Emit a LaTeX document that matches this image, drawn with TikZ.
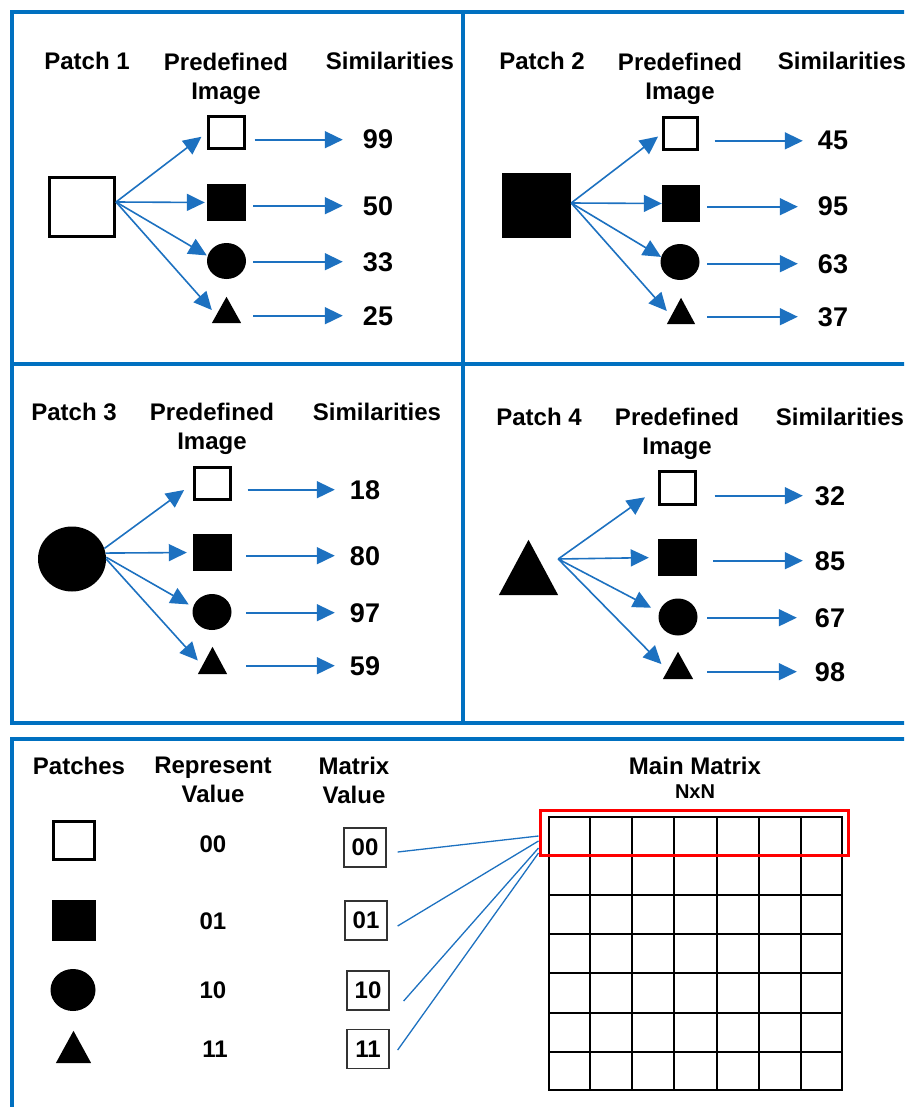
\documentclass[tikz,border=0pt]{standalone}
\usepackage{fontspec}
\setmainfont{Liberation Sans}
\usetikzlibrary{arrows.meta,shapes.geometric,calc}
\definecolor{frameblue}{HTML}{0070C0}
\definecolor{flowblue}{HTML}{1D71C0}

\begin{document}
\begin{tikzpicture}[x=1pt,y=-1pt,
  frame/.style={draw=frameblue, line width=4pt},
  hdr/.style={font=\bfseries\fontsize{24}{29}\selectfont, inner sep=0pt, align=center},
  num/.style={font=\bfseries\fontsize{27}{30}\selectfont, inner sep=0pt, anchor=base},
  code/.style={font=\bfseries\fontsize{24}{28}\selectfont, inner sep=0pt, anchor=base},
  osq/.style={draw, line width=3pt, inner sep=0pt},
  fsq/.style={fill=black, inner sep=0pt},
  blob/.style={ellipse, fill=black, inner sep=0pt},
  trinode/.style={inner sep=0pt},
  flow/.style={draw=flowblue, line width=1.6pt, -{Triangle[length=18pt,width=17pt]}},
  hz/.style 2 args={flow, shorten <=#1, shorten >=#2},
  fan/.style={flow, shorten >=#1},
  fan/.default=0pt,
  mbox/.style={draw=black!80, line width=1.3pt, minimum width=42pt, minimum height=39pt,
    inner sep=0pt, font=\bfseries\fontsize{24}{28}\selectfont},
  link/.style={draw=flowblue, line width=1.3pt},
  gridline/.style={draw=black, line width=2pt}
]
\useasboundingbox (0,0) rectangle (904,1107);
\clip (0,0) rectangle (904,1107);

% outer frames and dividers
\draw[frame] (12,12) rectangle (930,723);
\draw[frame] (463,12) -- (463,723);
\draw[frame] (12,364) -- (930,364);
\draw[frame] (12,739) rectangle (930,1130);

% ---------- Patch 1 ----------
\node[hdr, anchor=base] (h1a) at (87,70) {Patch 1};
\node[hdr, anchor=north] (h1b) at (226,53) {Predefined\\Image};
\node[hdr, anchor=base] (h1c) at (390,70) {Similarities};
\node[osq, minimum width=65pt, minimum height=59pt] (p1) at (82,207) {};
\node[osq, minimum width=36pt, minimum height=32pt] (a1) at (226.5,132.5) {};
\node[fsq, minimum width=39pt, minimum height=37pt] (b1) at (226.5,202.5) {};
\node[blob, minimum width=39pt, minimum height=36pt] (c1) at (226.5,261) {};
\node[trinode, minimum width=29pt, minimum height=26pt] (d1) at (226.5,310) {};
\node[num] (n1a) at (378,149) {99};
\node[num] (n1b) at (378,215) {50};
\node[num] (n1c) at (378,271) {33};
\node[num] (n1d) at (378,325) {25};
\draw[fan=7pt] ([yshift=5pt]p1.east) -- (a1.west);
\draw[fan=2pt] ([yshift=5pt]p1.east) -- (b1.west);
\draw[fan=1pt] ([yshift=5pt]p1.east) -- (c1.165);
\draw[fan] ([yshift=5pt]p1.east) -- (d1.west);
\draw[hz={8.5pt}{20pt}] (a1.east |- n1a) -- (n1a);
\draw[hz={7pt}{20pt}] (b1.east |- n1b) -- (n1b);
\draw[hz={7pt}{20pt}] (c1.east |- n1c) -- (n1c);
\draw[hz={12pt}{20pt}] (d1.east |- n1d) -- (n1d);

% ---------- Patch 2 ----------
\node[hdr, anchor=base] (h2a) at (542,70) {Patch 2};
\node[hdr, anchor=north] (h2b) at (680,53) {Predefined\\Image};
\node[hdr, anchor=base] (h2c) at (842,70) {Similarities};
\node[fsq, minimum width=69pt, minimum height=65pt] (p2) at (536.5,205.5) {};
\node[osq, minimum width=34pt, minimum height=32pt] (a2) at (680.5,133.5) {};
\node[fsq, minimum width=38pt, minimum height=37pt] (b2) at (681,203.5) {};
\node[blob, minimum width=39pt, minimum height=36pt] (c2) at (680,262) {};
\node[trinode, minimum width=28pt, minimum height=26pt] (d2) at (681,311) {};
\node[num] (n2a) at (833,150) {45};
\node[num] (n2b) at (833,216) {95};
\node[num] (n2c) at (833,273) {63};
\node[num] (n2d) at (833,326) {37};
\draw[fan=5pt] ([yshift=2.5pt]p2.east) -- (a2.west);
\draw[fan] ([yshift=2.5pt]p2.east) -- (b2.west);
\draw[fan] ([yshift=2.5pt]p2.east) -- (c2.165);
\draw[fan] ([yshift=2.5pt]p2.east) -- (d2.west);
\draw[hz={15.5pt}{15pt}] (a2.east |- n2a) -- (n2a);
\draw[hz={7pt}{20pt}] (b2.east |- n2b) -- (n2b);
\draw[hz={7.5pt}{20pt}] (c2.east |- n2c) -- (n2c);
\draw[hz={12pt}{20pt}] (d2.east |- n2d) -- (n2d);

% ---------- Patch 3 ----------
\node[hdr, anchor=base] (h3a) at (74,420) {Patch 3};
\node[hdr, anchor=north] (h3b) at (212,403) {Predefined\\Image};
\node[hdr, anchor=base] (h3c) at (377,420) {Similarities};
\node[blob, minimum width=68pt, minimum height=65pt] (p3) at (72,559) {};
\node[osq, minimum width=36pt, minimum height=32pt] (a3) at (212.5,483.5) {};
\node[fsq, minimum width=39pt, minimum height=37pt] (b3) at (212.5,552.5) {};
\node[blob, minimum width=39pt, minimum height=36pt] (c3) at (212,612) {};
\node[trinode, minimum width=29pt, minimum height=27pt] (d3) at (212.5,660.5) {};
\node[num] (n3a) at (365,499) {18};
\node[num] (n3b) at (365,565) {80};
\node[num] (n3c) at (365,622) {97};
\node[num] (n3d) at (365,675) {59};
\draw[fan=11pt] (p3.18) -- (a3.west);
\draw[fan=6pt] (p3.10) -- (b3.west);
\draw[fan=5pt] (p3.3) -- (c3.165);
\draw[fan] (p3.0) -- (d3.west);
\draw[hz={15.5pt}{15pt}] (a3.east |- n3a) -- (n3a);
\draw[hz={14pt}{15pt}] (b3.east |- n3b) -- (n3b);
\draw[hz={14.5pt}{15pt}] (c3.east |- n3c) -- (n3c);
\draw[hz={19pt}{15pt}] (d3.east |- n3d) -- (n3d);

% ---------- Patch 4 ----------
\node[hdr, anchor=base] (h4a) at (539,425) {Patch 4};
\node[hdr, anchor=north] (h4b) at (677,408) {Predefined\\Image};
\node[hdr, anchor=base] (h4c) at (840,425) {Similarities};
\node[trinode, minimum width=59pt, minimum height=55pt] (p4) at (528.5,567.5) {};
\node[osq, minimum width=36pt, minimum height=33pt] (a4) at (677.5,488) {};
\node[fsq, minimum width=39pt, minimum height=37pt] (b4) at (677.5,557.5) {};
\node[blob, minimum width=39pt, minimum height=37pt] (c4) at (678,617) {};
\node[trinode, minimum width=30pt, minimum height=27pt] (d4) at (678,665.5) {};
\node[num] (n4a) at (830,505) {32};
\node[num] (n4b) at (830,570) {85};
\node[num] (n4c) at (830,627) {67};
\node[num] (n4d) at (830,681) {98};
\draw[fan=16pt] ([yshift=8.5pt]p4.east) -- (a4.west);
\draw[fan=9pt] ([yshift=8.5pt]p4.east) -- (b4.west);
\draw[fan=9pt] ([yshift=8.5pt]p4.east) -- (c4.165);
\draw[fan=2pt] ([yshift=8.5pt]p4.east) -- (d4.west);
\draw[hz={17.5pt}{12pt}] (a4.east |- n4a) -- (n4a);
\draw[hz={16pt}{12pt}] (b4.east |- n4b) -- (n4b);
\draw[hz={9.5pt}{18pt}] (c4.east |- n4c) -- (n4c);
\draw[hz={14pt}{18pt}] (d4.east |- n4d) -- (n4d);

% ---------- Encoding table ----------
\node[hdr, anchor=base] (bh1) at (79,774) {Patches};
\node[hdr, anchor=north] (bh2) at (213,757) {Represent\\Value};
\node[hdr, anchor=north] (bh3) at (354,757) {Matrix\\Value};
\node[hdr, anchor=base] (bh4) at (695,774) {Main Matrix};
\node[font=\bfseries\fontsize{20}{24}\selectfont, inner sep=0pt, anchor=base] (bh5) at (695,798) {NxN};

\node[osq, minimum width=41pt, minimum height=38pt] (q1) at (74,840.5) {};
\node[fsq, minimum width=44pt, minimum height=41pt] (q2) at (74,920.5) {};
\node[blob, minimum width=45pt, minimum height=42pt] (q3) at (73,990) {};
\node[trinode, minimum width=35pt, minimum height=32pt] (q4) at (73.5,1047) {};

\node[code] (r1) at (213,852) {00};
\node[code] (r2) at (213,929) {01};
\node[code] (r3) at (213,998) {10};
\node[code] (r4) at (215,1057) {11};

\node[mbox] (m1) at (365,847.5) {00};
\node[mbox] (m2) at (366,920.5) {01};
\node[mbox] (m3) at (368,990.5) {10};
\node[mbox] (m4) at (368,1049) {11};

% main matrix: 7 x 7 cells
\node[draw, line width=2pt, minimum width=292.5pt, minimum height=272.7pt, inner sep=0pt] (mm) at (695.5,953.7) {};
\foreach \i in {1,...,6} {
  \draw[gridline] ($(mm.north west)!\i/7!(mm.north east)$) -- ($(mm.south west)!\i/7!(mm.south east)$);
  \draw[gridline] ($(mm.north west)!\i/7!(mm.south west)$) -- ($(mm.north east)!\i/7!(mm.south east)$);
}
\node[draw=red, line width=3pt, minimum width=308pt, minimum height=45pt, inner sep=0pt] (rb) at (694,832.5) {};

\draw[link] ([xshift=11pt,yshift=-4.5pt]m1.east) -- ([yshift=-3.5pt]rb.west);
\draw[link] ([xshift=10pt,yshift=-5.5pt]m2.east) -- ([yshift=-8.5pt]rb.west);
\draw[link] ([xshift=14pt,yshift=-10.5pt]m3.east) -- ([yshift=-15.5pt]rb.west);
\draw[link] ([xshift=8pt,yshift=-1pt]m4.east) -- ([yshift=-20.5pt]rb.west);

% triangle glyphs drawn inside their nodes
\foreach \t in {d1,d2,d3,d4,p4,q4}
  \fill (\t.south west) -- (\t.south east) -- (\t.north) -- cycle;
\end{tikzpicture}
\end{document}
